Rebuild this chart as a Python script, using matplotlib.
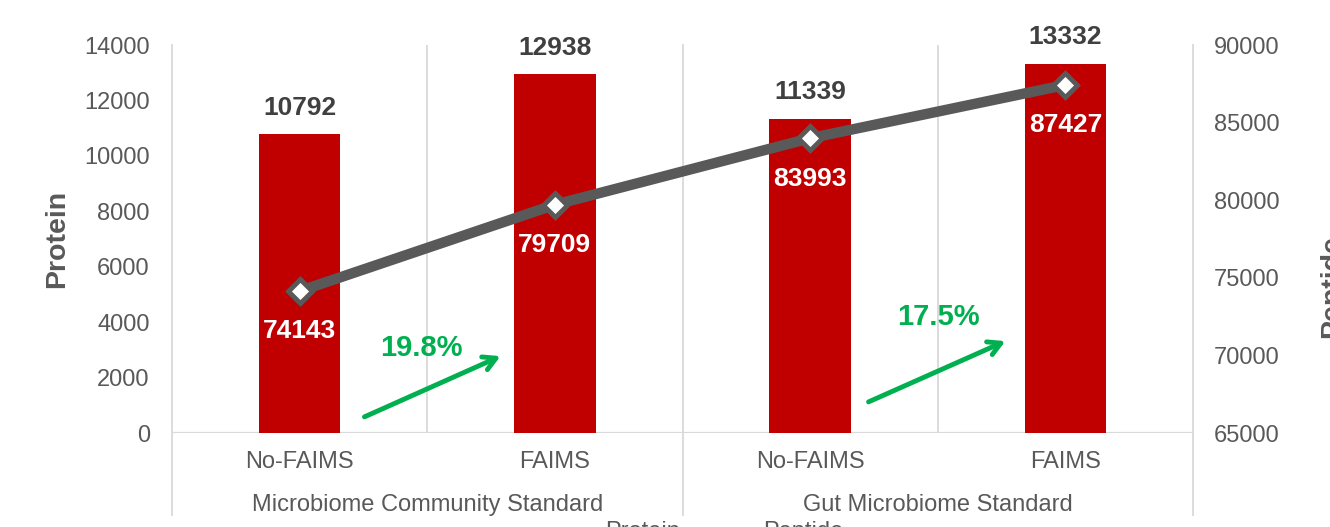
import matplotlib
matplotlib.use("Agg")
import matplotlib.pyplot as plt
import matplotlib.transforms as mtransforms

plt.rcParams['font.family'] = ['Liberation Sans', 'DejaVu Sans']

# ---- data ----
categories = ["No-FAIMS", "FAIMS", "No-FAIMS", "FAIMS"]
groups = ["Microbiome Community Standard", "Gut Microbiome Standard"]
protein = [10792, 12938, 11339, 13332]
peptide = [74143, 79709, 83993, 87427]
pct_labels = ["19.8%", "17.5%"]
pct_pos = [(0.476, 3067), (2.501, 4186)]
arrow_start = [(0.244, 541), (2.219, 1082)]
arrow_end = [(0.797, 2814), (2.775, 3356)]
left_ticks = [0, 2000, 4000, 6000, 8000, 10000, 12000, 14000]
right_ticks = [65000, 70000, 75000, 80000, 85000, 90000]

RED = "#C00000"
GRAY = "#595959"
DARK = "#404040"
GRID = "#D9D9D9"
GREEN = "#00B050"

fig = plt.figure(figsize=(13.3, 5.27), dpi=100)
W, H = 1330, 527
x0, x1, ytop, ybot = 172, 1193, 45, 433
ax = fig.add_axes([x0 / W, (H - ybot) / H, (x1 - x0) / W, (ybot - ytop) / H])
ax2 = ax.twinx()

xs = list(range(len(categories)))
ax.bar(xs, protein, width=0.32, color=RED, zorder=2)
ax.set_xlim(-0.5, 3.5)
ax.set_ylim(0, 14000)
ax.set_yticks(left_ticks)
ax.set_yticklabels([str(t) for t in left_ticks])
ax.tick_params(axis='y', length=0, pad=16, labelsize=17, labelcolor=GRAY)
ax.set_xticks(xs)
ax.set_xticklabels(categories)
ax.tick_params(axis='x', length=0, pad=13, labelsize=17, labelcolor=GRAY)
for s in ax.spines.values():
    s.set_visible(False)
for s in ax2.spines.values():
    s.set_visible(False)

ax.axhline(0, color=GRID, lw=1.6, zorder=1)
# inner grid lines
for xv in [0.5, 2.5]:
    ax.axvline(xv, color=GRID, lw=1.3, zorder=1)
trans = mtransforms.blended_transform_factory(ax.transData, ax.transAxes)
ext = -(515 - ybot) / (ybot - ytop)
for xv in [-0.5, 1.5, 3.5]:
    ax.plot([xv, xv], [ext, 1.0], transform=trans, color=GRID, lw=1.3,
            clip_on=False, zorder=1)

# group labels
gy = -(505 - ybot) / (ybot - ytop)
for i, g in enumerate(groups):
    ax.text(0.5 + 2 * i, gy, g, transform=trans, ha='center', va='center',
            fontsize=17, color=GRAY)

# bar labels
for x, v in zip(xs, protein):
    ax.annotate(str(v), (x, v), xytext=(0, 19), textcoords='offset points',
                ha='center', va='center', fontsize=19, fontweight='bold',
                color=DARK)

ax.set_ylabel("Protein", fontsize=20.5, fontweight='bold', color=GRAY, labelpad=10)

# line
ax2.set_ylim(65000, 90000)
ax2.set_yticks(right_ticks)
ax2.set_yticklabels([str(t) for t in right_ticks])
ax2.tick_params(axis='y', length=0, pad=15, labelsize=17, labelcolor=GRAY)
ax2.plot(xs, peptide, color=GRAY, lw=7.5, marker='D', markersize=12,
         markerfacecolor='white', markeredgecolor=GRAY, markeredgewidth=3.5,
         zorder=3)
for x, v in zip(xs, peptide):
    ax2.annotate(str(v), (x, v), xytext=(0, -29), textcoords='offset points',
                 ha='center', va='center', fontsize=19, fontweight='bold',
                 color='white')

# green arrows and percentages
for lab, p, s, e in zip(pct_labels, pct_pos, arrow_start, arrow_end):
    ax.annotate("", xy=e, xytext=s,
                arrowprops=dict(arrowstyle='->,head_length=0.9,head_width=0.5',
                                color=GREEN, lw=3.5))
    ax.text(p[0], p[1], lab, ha='center', va='center', fontsize=21,
            fontweight='bold', color=GREEN)

# right axis label and legend, cut off at the edges as in the reference
fig.text(1319 / W, (H - 287) / H, "Peptide", rotation=90, ha='left',
         va='center', fontsize=20.5, fontweight='bold', color=GRAY)
fig.text(643 / W, 6 / H, "Protein", ha='center', va='top', fontsize=17,
         color=GRAY)
fig.text(803 / W, 6 / H, "Peptide", ha='center', va='top', fontsize=17,
         color=GRAY)

fig.savefig("out.png", dpi=100, facecolor='white')
